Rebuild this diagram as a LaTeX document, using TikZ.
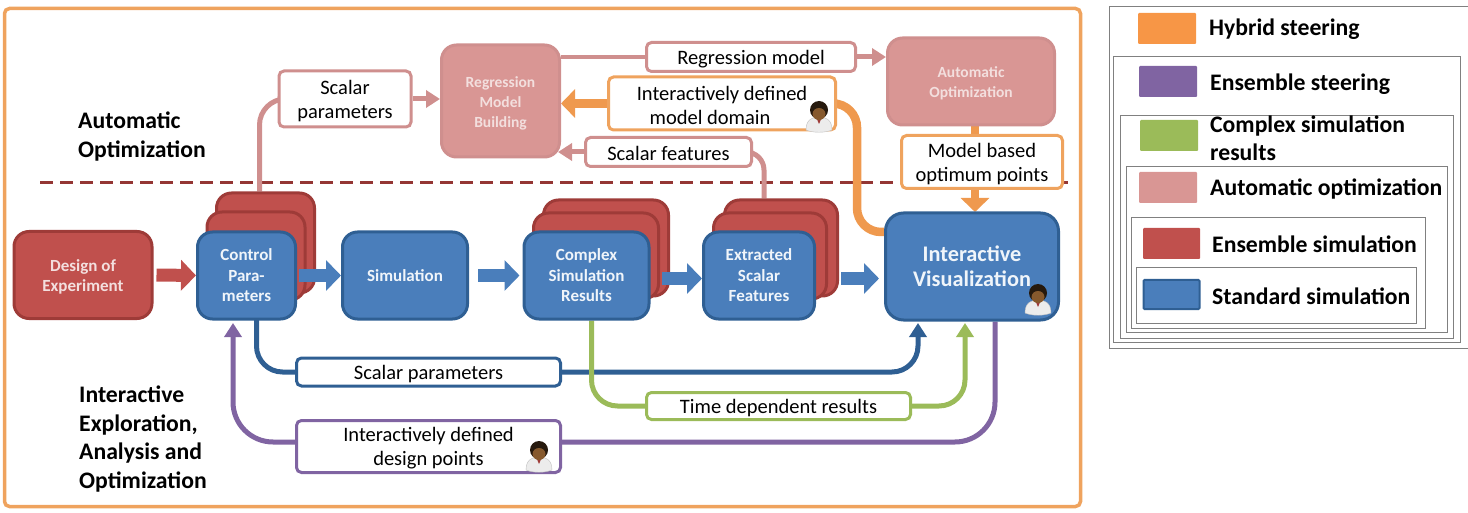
\documentclass[tikz,border=0pt]{standalone}
\usepackage{fontspec}
\setmainfont{Carlito}
\usetikzlibrary{arrows.meta,backgrounds,calc}
\definecolor{cOrange}{HTML}{F79646}
\definecolor{cConn}{HTML}{EF994E}
\definecolor{cFrame}{HTML}{EFA35E}
\definecolor{cPurple}{HTML}{8064A2}
\definecolor{cGreen}{HTML}{9BBB59}
\definecolor{cPink}{HTML}{D99694}
\definecolor{cPinkB}{HTML}{CF8F8E}
\definecolor{cRed}{HTML}{C0504D}
\definecolor{cRedB}{HTML}{9E3B38}
\definecolor{cBlue}{HTML}{4A7EBB}
\definecolor{cBlueB}{HTML}{2F5F93}
\definecolor{cDash}{HTML}{943634}
\definecolor{cPale}{HTML}{F3DFDE}
\tikzset{
  x=1pt,y=-1pt,
  box/.style={draw,line width=3pt,rounded corners=15pt,align=center,inner sep=0pt,text=white,
     font=\fontsize{17}{20.5}\selectfont\bfseries},
  bluebox/.style={box,fill=cBlue,draw=cBlueB,text=white!92!cBlue},
  redbox/.style={box,fill=cRed,draw=cRedB,text=cPale},
  stackbox/.style={box,fill=cRed,draw=cRedB},
  pinkbox/.style={box,fill=cPink,draw=cPinkB,text=cPale,font=\fontsize{15.5}{20}\selectfont\bfseries},
  lab/.style={draw,line width=3pt,fill=white,rounded corners=5pt,align=center,inner sep=0pt,text=black,
     font=\fontsize{20.5}{24.5}\selectfont},
  head/.style={align=left,inner sep=0pt,anchor=north west,text=black,
     font=\fontsize{23.7}{28.7}\selectfont\bfseries},
  legbox/.style={draw=black!50,line width=0.8pt},
  swatch/.style={line width=1pt,rounded corners=1pt},
  legtext/.style={anchor=west,inner sep=0pt,align=left,text=black,
     font=\fontsize{23.7}{28}\selectfont\bfseries},
  conn/.style={line width=5pt,rounded corners=26pt},
  connarrow/.style={conn,-{Triangle[length=14pt,width=17pt]}},
  thick conn/.style={line width=8.5pt,rounded corners=24pt},
  thick arrow/.style={thick conn,-{Triangle[length=14pt,width=28pt]}},
  block/.style={line width=13pt,-{Triangle[length=15pt,width=30pt]}},
  person/.pic={
    \fill[white!85!gray,draw=black!25,line width=0.4pt] (-13,15) .. controls (-13,4) and (-6,2) .. (0,2)
       .. controls (6,2) and (13,4) .. (13,15) .. controls (6,18) and (-6,18) .. (-13,15) -- cycle;
    \fill[cRedB] (-3,2) -- (3,2) -- (0,9) -- cycle;
    \fill[black!80!brown] (0,-5) ellipse (9 and 9);
    \fill[brown!70!black] (0,-1) ellipse (6.5 and 6);
  }
}
\newcommand{\dn}[1]{\rule{0pt}{#1pt}}
\begin{document}
\begin{tikzpicture}
\useasboundingbox (0,0) rectangle (1468,513);
\node[draw=cFrame,line width=3.5pt,rounded corners=5pt,minimum width=1076pt,minimum height=498pt,inner sep=0pt] (frame) at (542.5,257.5) {};
\coordinate (dashL) at (40,183);
\coordinate (dashR) at (1068,183);

% stacks
\node[stackbox,minimum width=98pt,minimum height=100pt] (cs3) at (265.5,243) {};
\node[stackbox,minimum width=98pt,minimum height=88pt] (cs2) at (256,256) {};
\node[stackbox,minimum width=125pt,minimum height=96pt] (rs3) at (606,248) {};
\node[stackbox,minimum width=125pt,minimum height=86pt] (rs2) at (596,256) {};
\node[stackbox,minimum width=113pt,minimum height=96pt] (es3) at (781,248) {};
\node[stackbox,minimum width=113pt,minimum height=86pt] (es2) at (770,256) {};

% main boxes
\node[redbox,minimum width=138pt,minimum height=87pt] (doe) at (83,275) {\dn{16}Design of\\Experiment};
\node[bluebox,minimum width=98pt,minimum height=87pt] (ctrl) at (246.5,275.5) {Control\\Para-\\meters};
\node[bluebox,minimum width=125pt,minimum height=87pt] (sim) at (405,275.5) {Simulation};
\node[bluebox,minimum width=125pt,minimum height=87pt] (res) at (586.5,275.5) {Complex\\Simulation\\Results};
\node[bluebox,minimum width=111pt,minimum height=87pt] (ext) at (759,275.5) {Extracted\\Scalar\\Features};
\node[bluebox,minimum width=173pt,minimum height=107pt,rounded corners=18pt,font=\fontsize{22.3}{25}\selectfont\bfseries] (vis) at (972,266.5) {Interactive\\Visualization};
\node[pinkbox,minimum width=118pt,minimum height=112pt] (reg) at (500.5,101) {\dn{15}Regression\\Model\\Building};
\node[pinkbox,minimum width=167pt,minimum height=87pt] (opt) at (971,81.5) {\dn{15}Automatic\\Optimization};

% labels
\node[lab,draw=cPinkB,minimum width=132pt,minimum height=56pt] (lsp) at (345,99) {\dn{18}Scalar\\parameters};
\node[lab,draw=cPinkB,minimum width=209pt,minimum height=29pt] (lrm) at (751,57) {\dn{18}Regression model};
\node[lab,draw=cFrame,minimum width=227pt,minimum height=53pt] (ldom) at (722,103.5) {\dn{18}Interactively defined\\model domain\hspace*{24pt}};
\node[lab,draw=cPinkB,minimum width=166pt,minimum height=29pt] (lsf) at (668.5,152) {\dn{18}Scalar features};
\node[lab,draw=cFrame,minimum width=161pt,minimum height=53pt] (lopt) at (982,162) {\dn{18}Model based\\optimum points};
\node[lab,draw=cBlueB,minimum width=264pt,minimum height=28pt] (lpar) at (428.5,372) {\dn{18}Scalar parameters};
\node[lab,draw=cGreen,minimum width=264pt,minimum height=27pt] (ltime) at (778.5,406) {\dn{18}Time dependent results};
\node[lab,draw=cPurple,minimum width=264pt,minimum height=52pt] (lpts) at (428.5,446.5) {\dn{18}Interactively defined\\design points};

% headings
\node[head] (h1) at (78,112) {Automatic\\Optimization};
\node[head] (h2) at (79,385.5) {Interactive\\Exploration,\\Analysis and\\Optimization};

% person icons
\pic at (819,115) {person};
\pic at (1038,298) {person};
\pic at (539,455) {person};

% connectors behind the boxes
\begin{scope}[on background layer]
\draw[cDash,line width=3pt,dash pattern=on 12.5pt off 7.5pt] (dashL) -- (dashR);
% pink
\draw[conn,cPinkB] ([xshift=-6pt]cs3.north) -- ([xshift=-6pt]cs3.north |- lsp.west) -- (lsp.west);
\draw[connarrow,cPinkB] (lsp.east) -- (lsp.east -| reg.west);
\draw[conn,cPinkB,line width=4.5pt] (lrm.west -| reg.east) -- (lrm.west);
\draw[connarrow,cPinkB] (lrm.east) -- (lrm.east -| opt.west);
\draw[conn,cPinkB,rounded corners=18pt] ([xshift=-17pt]es3.north) -- ([xshift=-17pt]es3.north |- lsf.east) -- (lsf.east);
\draw[connarrow,cPinkB] (lsf.west) -- ([xshift=-3pt]lsf.west -| reg.east);
% orange
\draw[thick arrow,cConn] (ldom.west) -- (ldom.west -| reg.east);
\draw[thick conn,cConn] (ldom.east) -- (857,103.5) -- (857,232) -- (vis.west |- 0,232);
\draw[thick conn,cConn] ([xshift=4pt]opt.south) -- ([xshift=4pt]opt.south |- lopt.north);
\draw[thick arrow,cConn] (975,189) -- (975,212);
% blue
\draw[conn,cBlueB] ([xshift=10pt,yshift=8pt]ctrl.south) -- ([xshift=10pt]ctrl.south |- lpar.west) -- (lpar.west);
\draw[connarrow,cBlueB] (lpar.east) -- (918,372) -- (918,323);
% green
\draw[conn,cGreen] ([xshift=5pt]res.south) -- ([xshift=5pt]res.south |- ltime.west) -- (ltime.west);
\draw[connarrow,cGreen] (ltime.east) -- (965,406) -- (965,323);
% purple
\draw[conn,cPurple,rounded corners=40pt] ([xshift=23pt]vis.south) -- ([xshift=23pt]vis.south |- 0,442) -- (lpts.east |- 0,442);
\draw[connarrow,cPurple,rounded corners=40pt] (lpts.west |- 0,442) -- (233,442) -- (233,323);
\end{scope}

% block arrows
\draw[block,cRed] (doe.east) ++(3pt,0) -- (ctrl.west);
\draw[block,cBlue] (ctrl.east) ++(2pt,0) -- (sim.west);
\draw[block,cBlue] (sim.east) ++(9pt,0) -- ([xshift=-3pt]res.west);
\draw[block,cBlue] ([xshift=11pt,yshift=-3pt]res.east) -- ([yshift=-3pt]ext.west);
\draw[block,cBlue] ([xshift=25pt,yshift=-3pt]ext.east) -- ([xshift=-5pt,yshift=-3pt]ext.east -| vis.west);

% legend
\node[legbox,minimum width=360pt,minimum height=342pt,inner sep=0pt] (b1) at (1289,177) {};
\node[legbox,minimum width=347pt,minimum height=286pt,inner sep=0pt] (b2) at (1286.5,199) {};
\node[legbox,minimum width=333pt,minimum height=223pt,inner sep=0pt] (b3) at (1286.5,226.5) {};
\node[legbox,minimum width=321pt,minimum height=166pt,inner sep=0pt] (b4) at (1286.5,249) {};
\node[legbox,minimum width=294pt,minimum height=111pt,inner sep=0pt] (b5) at (1278,272.5) {};
\node[legbox,minimum width=280pt,minimum height=56pt,inner sep=0pt] (b6) at (1276,295) {};
\node[swatch,fill=cOrange,minimum width=58pt,minimum height=31pt,inner sep=0pt] (s1) at (1167,28.5) {};
\node[swatch,fill=cPurple,minimum width=58pt,minimum height=31pt,inner sep=0pt] (s2) at (1168,81.5) {};
\node[swatch,fill=cGreen,minimum width=58pt,minimum height=31pt,inner sep=0pt] (s3) at (1169,135.5) {};
\node[swatch,fill=cPink,minimum width=58pt,minimum height=31pt,inner sep=0pt] (s4) at (1168,187.5) {};
\node[swatch,fill=cRed,minimum width=57pt,minimum height=31pt,inner sep=0pt] (s5) at (1171.5,243.5) {};
\node[swatch,fill=cBlue,draw=cBlueB,line width=2pt,minimum width=56pt,minimum height=29pt,inner sep=0pt] (s6) at (1171.5,294.5) {};
\node[legtext] (t1) at (1209,29) {Hybrid steering};
\node[legtext] (t2) at (1210,84) {Ensemble steering};
\node[legtext] (t3) at (1210,138) {Complex simulation\\results};
\node[legtext] (t4) at (1210,189) {Automatic optimization};
\node[legtext] (t5) at (1212,244) {Ensemble simulation};
\node[legtext] (t6) at (1212,296) {Standard simulation};
\end{tikzpicture}
\end{document}
